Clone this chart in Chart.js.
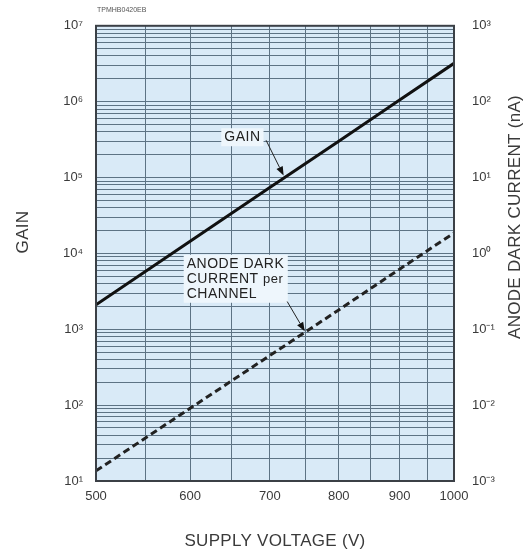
<!DOCTYPE html>
<html>
<head>
<meta charset="utf-8">
<script src="https://cdn.jsdelivr.net/npm/chart.js@4"></script>
<style>
  html, body { margin: 0; padding: 0; background: #fff; }
  #wrap { width: 523px; height: 554px; }
</style>
</head>
<body>
<div id="wrap"><canvas id="chart" width="523" height="554"></canvas></div>
<script>
// values (log-log)
const voltages = [500, 600, 700, 800, 900, 1000];
const gainValues = [2.1e3, 1.45e4, 7.4e4, 3.0e5, 1.05e6, 3.2e6];
const darkCurrent = [1.36e-3, 9.1e-3, 0.045, 0.18, 0.62, 1.86];

// axis ticks
const voltageGrid = [500, 550, 600, 650, 700, 750, 800, 850, 900, 950, 1000];
const voltageLabels = [500, 600, 700, 800, 900, 1000];
const gainDecades = [1, 2, 3, 4, 5, 6, 7];
const currentDecades = [-3, -2, -1, 0, 1, 2, 3];
const minorSteps = [1, 2, 3, 4, 5, 6, 7, 8, 9];

const FONT = '"Liberation Sans", Arial, Helvetica, sans-serif';
const textColor = "#3a3a3a";
const gridColor = "#5d7384";

const sup = { "-": "\u207B", "0": "\u2070", "1": "\u00B9", "2": "\u00B2", "3": "\u00B3",
  "4": "\u2074", "5": "\u2075", "6": "\u2076", "7": "\u2077", "8": "\u2078", "9": "\u2079" };
function powLabel(exp) {
  return "10" + String(exp).split("").map(c => sup[c]).join("");
}
function decadeOf(v) {
  const e = Math.log10(v);
  return Math.abs(e - Math.round(e)) < 1e-9 ? Math.round(e) : null;
}

// gain grid: 1..9 per decade
const gainGrid = [];
gainDecades.slice(0, -1).forEach(d => minorSteps.forEach(m => gainGrid.push(m * Math.pow(10, d))));
gainGrid.push(Math.pow(10, gainDecades[gainDecades.length - 1]));

const gainPoints = voltages.map((v, i) => ({ x: v, y: gainValues[i] }));
const darkPoints = voltages.map((v, i) => ({ x: v, y: darkCurrent[i] }));

// label anchors in data units
const gainNote = { lines: ["GAIN"], v: 641, g: 3.4e5, tail: { v: 695, g: 3.1e5 }, tip: { v: 719, g: 1.06e5 } };
const darkNote = { lines: ["ANODE DARK", "CURRENT per", "CHANNEL"], v: 596, g: 7.3e3,
  tail: { v: 724, i: 0.232 }, tip: { v: 749, i: 0.094 } };

const plotBackground = {
  id: "plotBackground",
  beforeDraw(chart) {
    const { ctx, chartArea: a } = chart;
    ctx.save();
    ctx.fillStyle = "#d9eaf7";
    ctx.fillRect(a.left, a.top, a.right - a.left, a.bottom - a.top);
    ctx.restore();
  },
  afterDraw(chart) {
    const { ctx, chartArea: a } = chart;
    ctx.save();
    ctx.strokeStyle = "#3b4046";
    ctx.lineWidth = 2;
    ctx.strokeRect(a.left, a.top, a.right - a.left, a.bottom - a.top);

    // tiny header code
    ctx.font = "7px " + FONT;
    ctx.fillStyle = "#555";
    ctx.textBaseline = "middle";
    ctx.fillText("TPMHB0420EB", a.left + 1, 10);

    // axis titles
    ctx.fillStyle = textColor;
    ctx.font = "17px " + FONT;
    ctx.letterSpacing = "0.3px";
    ctx.textAlign = "center";
    ctx.fillText("SUPPLY VOLTAGE (V)", (a.left + a.right) / 2, 541);
    ctx.save();
    ctx.translate(23, 232);
    ctx.rotate(-Math.PI / 2);
    ctx.fillText("GAIN", 0, 0);
    ctx.restore();
    ctx.save();
    ctx.translate(515, 217);
    ctx.rotate(-Math.PI / 2);
    ctx.fillText("ANODE DARK CURRENT (nA)", 0, 0);
    ctx.restore();
    ctx.restore();
  }
};

function drawArrow(ctx, x1, y1, x2, y2) {
  const ang = Math.atan2(y2 - y1, x2 - x1);
  const len = 9, w = 3.5;
  ctx.beginPath();
  ctx.moveTo(x1, y1);
  ctx.lineTo(x2 - Math.cos(ang) * len, y2 - Math.sin(ang) * len);
  ctx.stroke();
  ctx.beginPath();
  ctx.moveTo(x2, y2);
  ctx.lineTo(x2 - Math.cos(ang) * len - Math.sin(ang) * w, y2 - Math.sin(ang) * len + Math.cos(ang) * w);
  ctx.lineTo(x2 - Math.cos(ang) * len + Math.sin(ang) * w, y2 - Math.sin(ang) * len - Math.cos(ang) * w);
  ctx.closePath();
  ctx.fill();
}

const notes = {
  id: "notes",
  afterDatasetsDraw(chart) {
    const { ctx, scales } = chart;
    const xs = scales.x, ys = scales.y, ys2 = scales.y2;
    ctx.save();
    ctx.font = "14px " + FONT;
    ctx.letterSpacing = "0.5px";
    ctx.textBaseline = "middle";
    ctx.textAlign = "left";

    [gainNote, darkNote].forEach(n => {
      const x = xs.getPixelForValue(n.v);
      const y = ys.getPixelForValue(n.g);
      const lh = 15;
      const w = Math.max(...n.lines.map(t => ctx.measureText(t).width));
      ctx.fillStyle = "#eef6fc";
      ctx.fillRect(x - 3, y - 9, w + 6, lh * (n.lines.length - 1) + 18);
      ctx.fillStyle = "#222";
      n.lines.forEach((t, i) => {
        if (t.endsWith(" per")) {
          const head = t.slice(0, -3);
          ctx.fillText(head, x, y + i * lh);
          const hw = ctx.measureText(head).width;
          ctx.font = "13px " + FONT;
          ctx.fillText("per", x + hw, y + i * lh + 1);
          ctx.font = "14px " + FONT;
        } else {
          ctx.fillText(t, x, y + i * lh);
        }
      });
    });

    ctx.strokeStyle = "#222";
    ctx.fillStyle = "#111";
    ctx.lineWidth = 1;
    drawArrow(ctx, xs.getPixelForValue(gainNote.tail.v), ys.getPixelForValue(gainNote.tail.g),
      xs.getPixelForValue(gainNote.tip.v), ys.getPixelForValue(gainNote.tip.g));
    drawArrow(ctx, xs.getPixelForValue(darkNote.tail.v), ys2.getPixelForValue(darkNote.tail.i),
      xs.getPixelForValue(darkNote.tip.v), ys2.getPixelForValue(darkNote.tip.i));
    ctx.restore();
  }
};

const tickFont = { family: FONT, size: 13 };

new Chart(document.getElementById("chart"), {
  type: "line",
  data: {
    datasets: [
      {
        label: "GAIN",
        data: gainPoints,
        yAxisID: "y",
        borderColor: "#111",
        borderWidth: 3,
        pointRadius: 0,
        tension: 0
      },
      {
        label: "ANODE DARK CURRENT per CHANNEL",
        data: darkPoints,
        yAxisID: "y2",
        borderColor: "#222",
        borderWidth: 3,
        borderDash: [7, 4],
        pointRadius: 0,
        tension: 0
      }
    ]
  },
  options: {
    responsive: false,
    animation: false,
    layout: { padding: { top: 22, left: 0, right: 0, bottom: 0 } },
    plugins: {
      legend: { display: false },
      tooltip: { enabled: false }
    },
    scales: {
      x: {
        type: "logarithmic",
        min: 500,
        max: 1000,
        afterBuildTicks: s => { s.ticks = voltageGrid.map(v => ({ value: v })); },
        afterFit: s => { s.height = 73; },
        ticks: {
          autoSkip: false,
          maxRotation: 0,
          padding: 8,
          font: tickFont,
          color: textColor,
          callback: v => voltageLabels.includes(v) ? String(v) : ""
        },
        grid: { color: gridColor, lineWidth: 1, drawTicks: false },
        border: { display: false }
      },
      y: {
        type: "logarithmic",
        position: "left",
        min: 10,
        max: 1e7,
        afterBuildTicks: s => { s.ticks = gainGrid.map(v => ({ value: v })); },
        afterFit: s => { s.width = 96; },
        ticks: {
          autoSkip: false,
          padding: 13,
          font: tickFont,
          color: textColor,
          callback: v => { const d = decadeOf(v); return d === null ? "" : powLabel(d); }
        },
        grid: { color: gridColor, lineWidth: 1, drawTicks: false },
        border: { display: false }
      },
      y2: {
        type: "logarithmic",
        position: "right",
        min: 1e-3,
        max: 1e3,
        afterBuildTicks: s => { s.ticks = currentDecades.map(d => ({ value: Math.pow(10, d) })); },
        afterFit: s => { s.width = 69; },
        ticks: {
          autoSkip: false,
          padding: 18,
          font: tickFont,
          color: textColor,
          callback: v => { const d = decadeOf(v); return d === null ? "" : powLabel(d); }
        },
        grid: { display: false, drawTicks: false },
        border: { display: false }
      }
    }
  },
  plugins: [plotBackground, notes]
});
</script>
</body>
</html>
